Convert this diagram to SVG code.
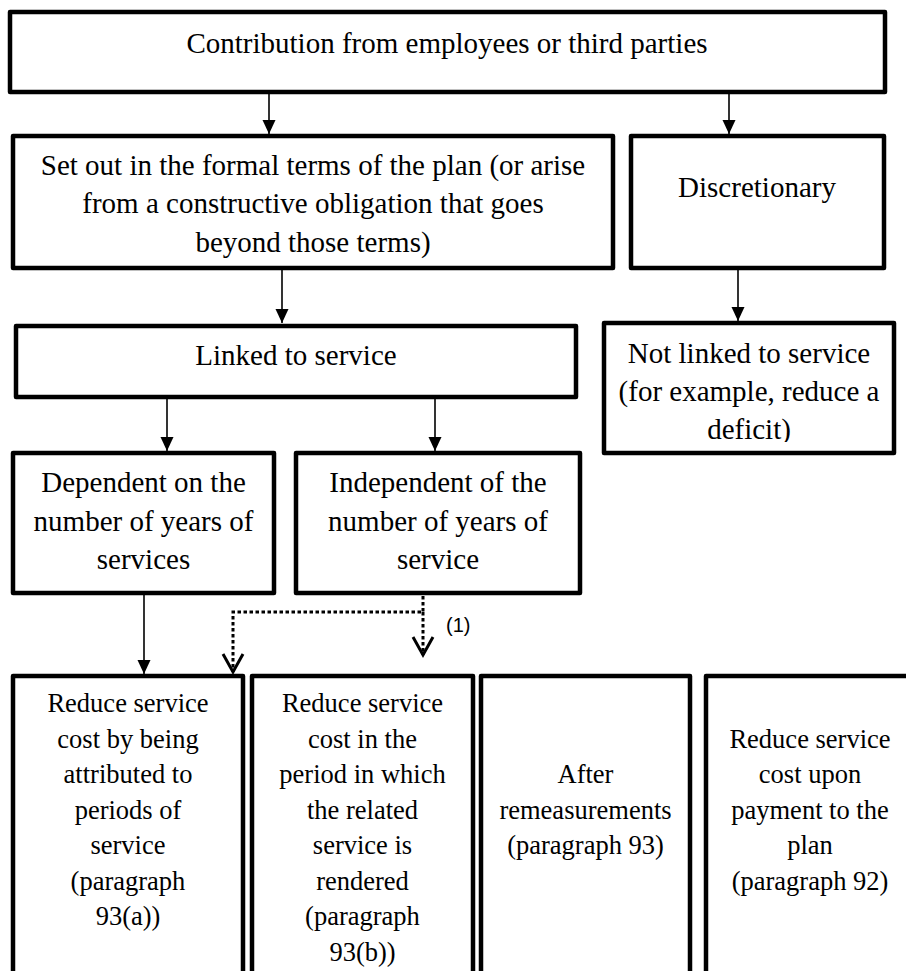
<svg xmlns="http://www.w3.org/2000/svg" width="906" height="971" viewBox="0 0 906 971">
<style>
.box{fill:#fff;stroke:#000;stroke-width:4.5;stroke-linejoin:round}
.t1{font-family:'Liberation Serif','DejaVu Serif',serif;font-size:29px;fill:#000;text-anchor:middle}
.t2{font-family:'Liberation Serif','DejaVu Serif',serif;font-size:26.5px;fill:#000;text-anchor:middle}
.lbl{font-family:'Liberation Sans',Arial,sans-serif;font-size:20px;fill:#000}
.arr{stroke:#000;stroke-width:1.6;fill:none;marker-end:url(#solid)}
.dot{stroke:#000;stroke-width:3;fill:none;stroke-dasharray:3.5 2.5;marker-end:url(#open)}
</style>
<defs>
<marker id="solid" markerUnits="userSpaceOnUse" markerWidth="16" markerHeight="14" refX="14" refY="6.5" orient="auto" overflow="visible">
<path d="M0,0 L14,6.5 L0,13 z" fill="#000"/>
</marker>
<marker id="open" markerUnits="userSpaceOnUse" markerWidth="20" markerHeight="22" refX="18" refY="10" orient="auto" overflow="visible">
<path d="M0,0 L18,10 L0,20" fill="none" stroke="#000" stroke-width="3" stroke-dasharray="none"/>
</marker>
<clipPath id="clipNL"><rect x="600" y="320" width="300" height="122"/></clipPath>
</defs>
<rect width="906" height="971" fill="#fff"/>

<g id="connectors">
<line class="arr" x1="269" y1="94" x2="269" y2="134"/>
<line class="arr" x1="729" y1="94" x2="729" y2="134"/>
<line class="arr" x1="282" y1="270" x2="282" y2="323"/>
<line class="arr" x1="738" y1="270" x2="738" y2="321"/>
<line class="arr" x1="167" y1="399" x2="167" y2="451"/>
<line class="arr" x1="435" y1="399" x2="435" y2="451"/>
<line class="arr" x1="144" y1="595" x2="144" y2="674"/>
<path class="dot" d="M423,596 V612 H233 V672"/>
<path class="dot" d="M423,612 V655"/>
<text class="lbl" x="446" y="632">(1)</text>
</g>

<g id="n-top">
<rect class="box" x="10" y="12" width="875" height="80"/>
<text class="t1" x="447" y="53">Contribution from employees or third parties</text>
</g>

<g id="n-formal">
<rect class="box" x="13" y="136" width="600" height="132"/>
<text class="t1" x="313" y="175">Set out in the formal terms of the plan (or arise</text>
<text class="t1" x="313" y="213">from a constructive obligation that goes</text>
<text class="t1" x="313" y="252">beyond those terms)</text>
</g>

<g id="n-discretionary">
<rect class="box" x="631" y="136" width="253" height="132"/>
<text class="t1" x="757" y="197">Discretionary</text>
</g>

<g id="n-linked">
<rect class="box" x="16" y="326" width="560" height="71"/>
<text class="t1" x="296" y="365">Linked to service</text>
</g>

<g id="n-notlinked">
<rect class="box" x="604" y="323" width="290" height="130"/>
<g clip-path="url(#clipNL)">
<text class="t1" x="749" y="363">Not linked to service</text>
<text class="t1" x="749" y="401">(for example, reduce a</text>
<text class="t1" x="749" y="439">deficit)</text>
</g>
</g>

<g id="n-dependent">
<rect class="box" x="13" y="453" width="261" height="140"/>
<text class="t1" x="143.5" y="492">Dependent on the</text>
<text class="t1" x="143.5" y="531">number of years of</text>
<text class="t1" x="143.5" y="569">services</text>
</g>

<g id="n-independent">
<rect class="box" x="296" y="453" width="284" height="140"/>
<text class="t1" x="438" y="492">Independent of the</text>
<text class="t1" x="438" y="531">number of years of</text>
<text class="t1" x="438" y="569">service</text>
</g>

<g id="n-attributed">
<rect class="box" x="13" y="676" width="230" height="320"/>
<text class="t2" x="128" y="712">Reduce service</text>
<text class="t2" x="128" y="747.5">cost by being</text>
<text class="t2" x="128" y="783">attributed to</text>
<text class="t2" x="128" y="818.5">periods of</text>
<text class="t2" x="128" y="854">service</text>
<text class="t2" x="128" y="889.5">(paragraph</text>
<text class="t2" x="128" y="925">93(a))</text>
</g>

<g id="n-rendered">
<rect class="box" x="252" y="676" width="221" height="320"/>
<text class="t2" x="362.5" y="712">Reduce service</text>
<text class="t2" x="362.5" y="747.5">cost in the</text>
<text class="t2" x="362.5" y="783">period in which</text>
<text class="t2" x="362.5" y="818.5">the related</text>
<text class="t2" x="362.5" y="854">service is</text>
<text class="t2" x="362.5" y="889.5">rendered</text>
<text class="t2" x="362.5" y="925">(paragraph</text>
<text class="t2" x="362.5" y="960.5">93(b))</text>
</g>

<g id="n-remeasurements">
<rect class="box" x="481" y="676" width="209" height="320"/>
<text class="t2" x="585.5" y="783">After</text>
<text class="t2" x="585.5" y="818.5">remeasurements</text>
<text class="t2" x="585.5" y="854">(paragraph 93)</text>
</g>

<g id="n-payment">
<rect class="box" x="706" y="676" width="210" height="320"/>
<text class="t2" x="810" y="747.5">Reduce service</text>
<text class="t2" x="810" y="783">cost upon</text>
<text class="t2" x="810" y="818.5">payment to the</text>
<text class="t2" x="810" y="854">plan</text>
<text class="t2" x="810" y="889.5">(paragraph 92)</text>
</g>
</svg>
